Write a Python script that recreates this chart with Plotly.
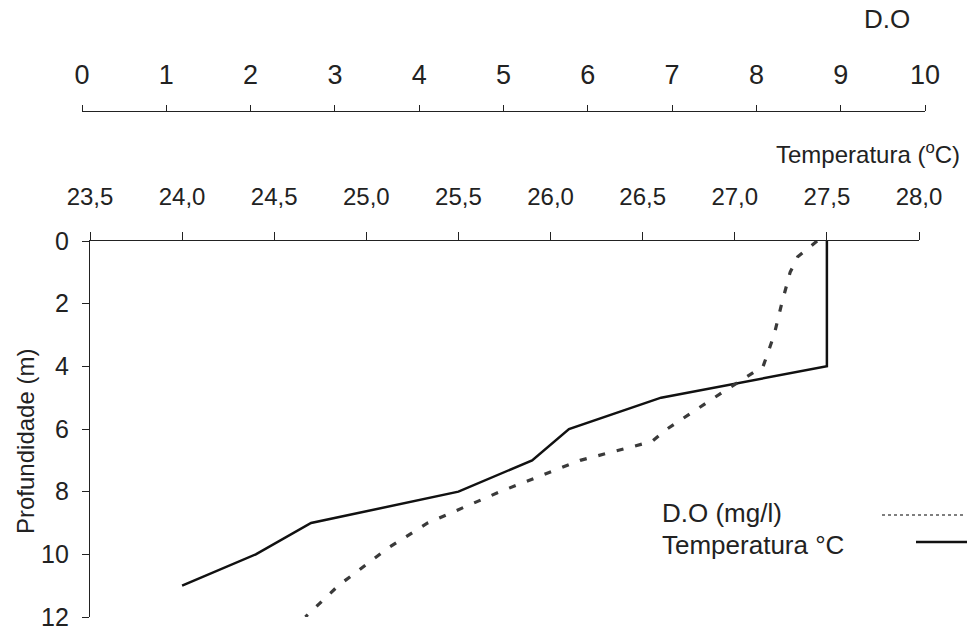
import plotly.graph_objects as go

W, H = 970, 633

# ---- data ----
temp_depth = [0, 4, 5, 6, 7, 8, 9, 10, 11]
temp_vals = [27.5, 27.5, 26.6, 26.1, 25.9, 25.5, 24.7, 24.4, 24.0]

do_depth = [0, 0.5, 1, 2, 3, 4, 5, 6, 6.4, 7, 8, 9, 9.8, 11, 12]
do_vals = [8.72, 8.49, 8.40, 8.30, 8.21, 8.08, 7.50, 6.94, 6.76, 5.91, 4.96, 4.10, 3.63, 3.04, 2.65]

temp_ticks = [23.5, 24.0, 24.5, 25.0, 25.5, 26.0, 26.5, 27.0, 27.5, 28.0]
temp_ticklabels = ["23,5", "24,0", "24,5", "25,0", "25,5", "26,0", "26,5", "27,0", "27,5", "28,0"]
do_ticks = [0, 1, 2, 3, 4, 5, 6, 7, 8, 9, 10]
depth_ticks = [0, 2, 4, 6, 8, 10, 12]

FONT = "Liberation Sans, Arial, sans-serif"


def px(x):
    return x / W


def py(y):
    return 1 - y / H


fig = go.Figure()

fig.add_trace(go.Scatter(
    x=temp_vals, y=temp_depth, xaxis="x", yaxis="y",
    mode="lines", line=dict(color="#111111", width=2.5),
    name="Temperatura °C", showlegend=False, cliponaxis=False,
))
fig.add_trace(go.Scatter(
    x=do_vals, y=do_depth, xaxis="x2", yaxis="y",
    mode="lines", line=dict(color="#3a3a3a", width=3.2, dash="7px,12px"),
    name="D.O (mg/l)", showlegend=False, cliponaxis=False,
))

axis_common = dict(showgrid=False, zeroline=False, showline=True,
                   linecolor="#222222", linewidth=1.3, tickcolor="#222222",
                   ticks="outside", tickwidth=1.2, automargin=False)

fig.update_layout(
    width=W, height=H,
    margin=dict(l=0, r=0, t=0, b=0),
    paper_bgcolor="white", plot_bgcolor="rgba(0,0,0,0)",
    font=dict(family=FONT, color="#222222"),
    xaxis=dict(
        **axis_common,
        domain=[px(90), px(919)],
        range=[23.5, 28.0], side="top", anchor="y",
        tickvals=temp_ticks, ticktext=temp_ticklabels, ticklen=8,
        tickfont=dict(size=24, family=FONT, color="#222222"),
        ticklabelstandoff=17,
    ),
    xaxis2=dict(
        **axis_common,
        domain=[px(82), px(925)],
        range=[0, 10], side="top", anchor="free", position=py(111),
        tickvals=do_ticks, ticklen=6,
        tickfont=dict(size=27, family=FONT, color="#222222"),
        ticklabelstandoff=10,
    ),
    yaxis=dict(
        **axis_common,
        domain=[py(617), py(241)],
        range=[12, 0], anchor="x",
        tickvals=depth_ticks, ticklen=7,
        tickfont=dict(size=25, family=FONT, color="#222222"),
        ticklabelstandoff=8,
    ),
    annotations=[
        dict(text="Profundidade (m)", x=px(25), y=py(442), xref="paper", yref="paper",
             textangle=-90, showarrow=False, xanchor="center", yanchor="middle",
             font=dict(size=24, family=FONT, color="#222222")),
        dict(text="Temperatura (<sup>o</sup>C)", x=px(962), y=py(153), xref="paper", yref="paper",
             showarrow=False, xanchor="right", yanchor="middle",
             font=dict(size=24, family=FONT, color="#222222")),
        dict(text="D.O", x=px(887), y=py(19), xref="paper", yref="paper",
             showarrow=False, xanchor="center", yanchor="middle",
             font=dict(size=26, family=FONT, color="#222222")),
        dict(text="D.O (mg/l)", x=px(660), y=py(513), xref="paper", yref="paper",
             showarrow=False, xanchor="left", yanchor="middle",
             font=dict(size=26, family=FONT, color="#222222")),
        dict(text="Temperatura °C", x=px(660), y=py(545), xref="paper", yref="paper",
             showarrow=False, xanchor="left", yanchor="middle",
             font=dict(size=26, family=FONT, color="#222222")),
    ],
    shapes=[
        dict(type="line", xref="paper", yref="paper", x0=px(882), x1=px(963), y0=py(515), y1=py(515),
             line=dict(color="#555555", width=1.5, dash="dot")),
        dict(type="line", xref="paper", yref="paper", x0=px(916), x1=px(967), y0=py(542), y1=py(542),
             line=dict(color="#111111", width=2.5)),
    ],
)

fig.write_html("out.html")
